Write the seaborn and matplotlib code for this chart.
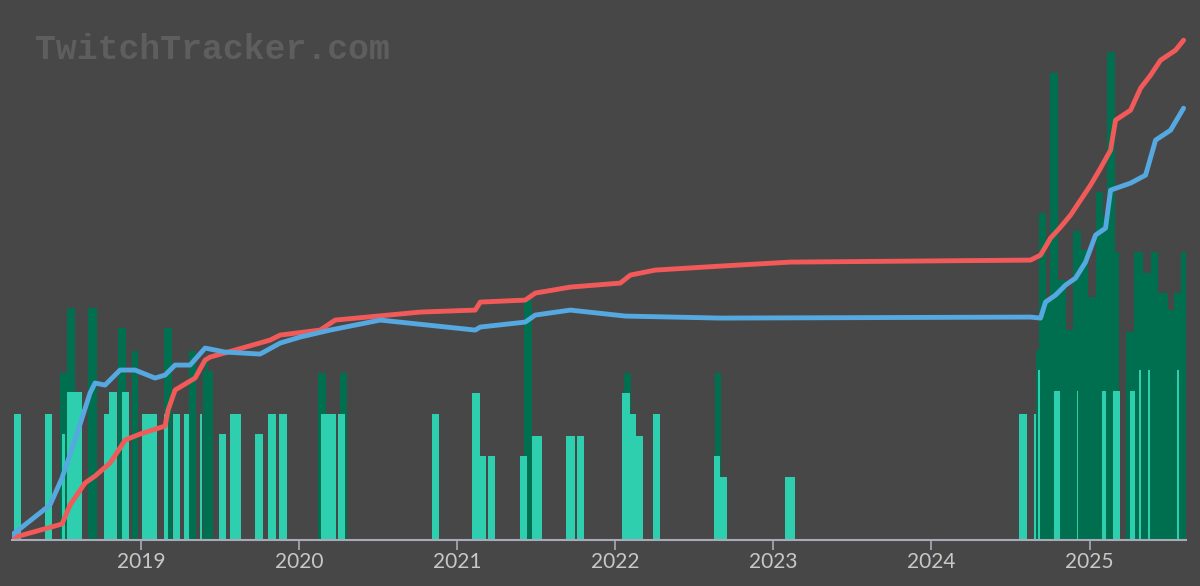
import matplotlib
matplotlib.use("Agg")
import matplotlib.pyplot as plt
import seaborn as sns
import numpy as np

def yr(v):
    return 2019 + (np.asarray(v, float) - 141) / 158.0

# teal bars: (start, end, height) in chart units
teal_bars = [(14,21,126),(45,52,126),(62,65,106),(67,82,148),(104,109,126),(109,117,148),(122,129,148),
    (142,157,126),(164,168,126),(173,180,126),(184,189,126),(200,202,126),(219,226,106),(230,241,126),
    (255,263,106),(268,276,126),(279,287,126),(321,336,126),(338,345,126),(432,439,126),(472,480,147),
    (480,486,84),(488,495,84),(520,527,84),(532,542,104),(566,575,104),(577,584,104),(622,630,147),
    (630,636,126),(636,643,104),(653,660,126),(714,720,84),(720,727,63),(785,795,63),
    (1018,1026,126),(1033,1035,126),(1037,1039,170),(1053,1059,149),(1076,1077,149),(1101,1105,149),
    (1112,1119,149),(1129,1134,149),(1138,1140,170),(1147,1149,170),(1176,1178,170)]
dark_bars = [(60,67,167),(67,75,232),(88,97,232),(118,126,212),(132,138,189),(164,172,212),(189,196,189),
    (203,213,169),(206,208,185),(318,326,167),(340,347,167),(524,532,240),(624,631,167),(715,721,167),
    (1035,1038,190),(1038,1045,327),(1045,1049,240),(1049,1057,467),(1057,1065,260),(1065,1072,210),
    (1072,1080,309),(1080,1087,290),(1087,1095,243),(1095,1102,348),(1102,1106,323),(1106,1114,488),
    (1114,1118,288),(1125,1133,208),(1133,1142,288),(1142,1150,267),(1150,1157,288),(1157,1167,247),
    (1167,1173,230),(1173,1180,247),(1180,1186,288)]
red_x = [12,62,70,85,95,110,120,125,140,165,168,175,195,205,210,235,270,280,320,335,420,475,480,525,535,570,620,630,655,720,790,1030,1040,1050,1060,1070,1080,1090,1100,1110,1115,1130,1140,1150,1160,1175,1183]
red_y = [538,524,505,483,476,463,448,440,434,426,410,390,378,360,357,350,340,335,330,320,312,310,302,300,293,287,283,275,270,266,262,260,255,238,227,215,200,185,168,150,120,110,88,75,60,50,40]
blue_x = [12,50,62,75,90,95,105,120,135,155,165,175,190,205,225,260,280,300,330,380,475,480,525,535,570,625,720,1030,1040,1045,1055,1065,1075,1085,1095,1105,1110,1130,1145,1155,1170,1183]
blue_y = [535,505,478,440,393,383,385,370,370,378,375,365,365,348,352,354,343,337,330,320,330,327,322,315,310,316,318,317,318,302,295,285,278,262,235,228,190,183,175,140,130,108]
years = [2019,2020,2021,2022,2023,2024,2025]

sns.set_theme(style="dark")
bg = "#474747"
fig = plt.figure(figsize=(12, 5.86), dpi=100, facecolor=bg)
ax = fig.add_axes([0.01, 0.0785, 0.978, 0.87], facecolor=bg)

for s, e, h in dark_bars:
    ax.bar(yr(s), h, width=(e - s) / 158.0, align="edge", color="#006f4f", linewidth=0)
for s, e, h in teal_bars:
    ax.bar(yr(s), h, width=(e - s) / 158.0, align="edge", color="#2ecfaf", linewidth=0)

sns.lineplot(x=yr(red_x), y=540 - np.array(red_y), ax=ax, color="#f25a5a", linewidth=3.5, sort=False)
sns.lineplot(x=yr(blue_x), y=540 - np.array(blue_y), ax=ax, color="#56a8e0", linewidth=3.5, sort=False)

ax.set_xlim(yr(12), yr(1185))
ax.set_ylim(0, 510)
ax.set_yticks([])
ax.set_xticks(years)
ax.set_xticklabels([str(y) for y in years], color="#c8c8c8", fontsize=15, family="Lato")
ax.tick_params(axis="x", length=7, width=1.2, color="#a8aabb", pad=2, bottom=True)
for sp in ["top", "right", "left"]:
    ax.spines[sp].set_visible(False)
ax.spines["bottom"].set_color("#a8aabb")
ax.spines["bottom"].set_linewidth(1.5)
ax.grid(False)
fig.text(0.029, 0.9, "TwitchTracker.com", fontsize=25, family="Liberation Mono",
         fontweight="bold", color="#5e5e5e")
fig.savefig("out.png", dpi=100, facecolor=bg)
